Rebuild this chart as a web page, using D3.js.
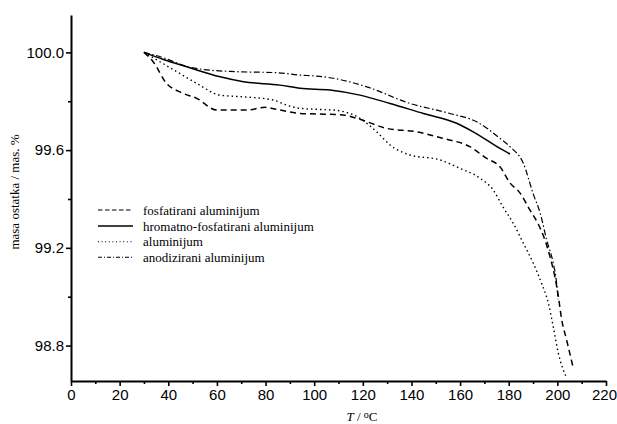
<!DOCTYPE html>
<html><head><meta charset="utf-8">
<script src="https://cdn.jsdelivr.net/npm/d3@7"></script>
<style>html,body{margin:0;padding:0;background:#fff;}svg{display:block;}</style>
</head><body>
<svg id="chart" width="617" height="424"></svg>
<script>
// ---- data ----
const seriesNames = ["fosfatirani aluminijum","hromatno-fosfatirani aluminijum","aluminijum","anodizirani aluminijum"];
const fosfT = [30,33.7,39.3,45.5,51.7,59.9,72.2,79.8,85.9,94.2,101,111.8,118.8,129.8,142.1,153,164,170.9,176.4,180.5,184.6,188.7,192,194.9,197,199,200.2,201.8,203.8,206.4];
const fosfV = [100.0,99.963,99.873,99.835,99.812,99.764,99.764,99.775,99.764,99.75,99.748,99.744,99.726,99.689,99.675,99.648,99.614,99.566,99.532,99.466,99.425,99.355,99.30,99.232,99.163,99.08,99.015,98.905,98.823,98.714];
const hromT = [30,38,47.6,61.3,70.9,85.9,94.2,106.5,118.8,131.2,144.9,158.6,165.4,176.4,180.5];
const hromV = [100.0,99.971,99.941,99.90,99.88,99.866,99.853,99.846,99.825,99.791,99.75,99.71,99.675,99.607,99.584];
const aluT = [30,36,42,51.7,61.3,70.9,83.2,88.7,94.2,101,107.9,118.8,125.7,131.2,139.4,151.7,160,168.2,173.6,177.6,181.9,186,190.1,193.5,196.3,198.3,200.4,203.8];
const aluV = [100.0,99.965,99.93,99.873,99.825,99.818,99.805,99.784,99.771,99.767,99.764,99.73,99.675,99.621,99.58,99.56,99.525,99.485,99.437,99.368,99.30,99.219,99.137,99.055,98.973,98.878,98.769,98.667];
const anoT = [30,38,47.6,54.4,68.1,84.6,94.2,101,107.9,121.6,139.4,155.8,166.8,176.4,180.5,186,190.1,193,195.6,198.3,199.7,200.3];
const anoV = [100.0,99.978,99.942,99.93,99.921,99.917,99.907,99.903,99.894,99.859,99.791,99.75,99.716,99.648,99.614,99.546,99.42,99.34,99.232,99.137,99.055,98.99];
const xTicks = [0,20,40,60,80,100,120,140,160,180,200,220];
const yTicks = [98.8,99.2,99.6,100.0];

// ---- layout ----
const svg = d3.select("#chart");
const x = d3.scaleLinear().domain([0,220]).range([71,606]);
const y = d3.scaleLinear().domain([98.655,100.153]).range([381,15]);

const styles = [
  {dash:"6,4", w:1.5},
  {dash:null, w:1.5},
  {dash:"1.5,3", w:1.4},
  {dash:"6,2.5,1.5,2.5", w:1.2}
];
const data = [
  d3.zip(fosfT,fosfV), d3.zip(hromT,hromV), d3.zip(aluT,aluV), d3.zip(anoT,anoV)
];
const line = d3.line().x(d=>x(d[0])).y(d=>y(d[1])).curve(d3.curveMonotoneX);

// axes
const xAxis = d3.axisBottom(x).tickValues(d3.range(0,221,10)).tickSize(5).tickSizeOuter(0)
  .tickFormat(d => xTicks.includes(d) ? d : "");
const gx = svg.append("g").attr("transform","translate(0,381)").call(xAxis);
gx.select(".domain").attr("stroke","#000").attr("stroke-width",2);
gx.selectAll(".tick line").attr("stroke","#000").attr("stroke-width",1.6)
  .attr("y2", d => xTicks.includes(d) ? 5 : 3);
gx.selectAll(".tick text").attr("font-family","'Liberation Sans',Arial,sans-serif").attr("font-size",15)
  .attr("fill","#000").attr("y",8).attr("dy","0.71em")
  .attr("dx", d => d===220 ? -2 : 0);

const yAxis = d3.axisLeft(y).tickValues([98.8,99.0,99.2,99.4,99.6,99.8,100.0]).tickSize(5).tickSizeOuter(0)
  .tickFormat(d => yTicks.some(t=>Math.abs(t-d)<1e-6) ? d3.format(".1f")(d) : "");
const gy = svg.append("g").attr("transform","translate(71,0)").call(yAxis);
gy.select(".domain").attr("stroke","#000").attr("stroke-width",2);
gy.selectAll(".tick line").attr("stroke","#000").attr("stroke-width",1.6)
  .attr("x2", d => yTicks.some(t=>Math.abs(t-d)<1e-6) ? -5 : -3);
gy.selectAll(".tick text").attr("font-family","'Liberation Sans',Arial,sans-serif").attr("font-size",15)
  .attr("fill","#000").attr("x",-7);

// lines
svg.append("g").selectAll("path").data(data).join("path")
  .attr("d", line).attr("fill","none").attr("stroke","#000")
  .attr("stroke-width",(d,i)=>styles[i].w)
  .attr("stroke-dasharray",(d,i)=>styles[i].dash);

// legend
const legRows = [210,226,241.7,257.3];
const leg = svg.append("g");
seriesNames.forEach((n,i)=>{
  leg.append("line").attr("x1",98).attr("x2",133).attr("y1",legRows[i]).attr("y2",legRows[i])
    .attr("stroke","#000").attr("stroke-width",i===1?1.5:1.1)
    .attr("stroke-dasharray", i===0?"4.5,2.5": i===2?"1,2.6": i===3?"4,2,1,2":null);
  leg.append("text").attr("x",143).attr("y",legRows[i]+4.5)
    .attr("font-family","'Liberation Serif','Times New Roman',serif").attr("font-size",13)
    .attr("fill","#000").text(n);
});

// axis titles
svg.append("text").attr("transform","translate(19,192) rotate(-90)").attr("text-anchor","middle")
  .attr("font-family","'Liberation Serif','Times New Roman',serif").attr("font-size",13).attr("fill","#000")
  .text("masa ostatka / mas. %");
const xt = svg.append("text").attr("x",362).attr("y",421).attr("text-anchor","middle")
  .attr("font-family","'Liberation Serif','Times New Roman',serif").attr("font-size",13).attr("fill","#000");
xt.append("tspan").attr("font-style","italic").text("T");
xt.append("tspan").text(" / ");
xt.append("tspan").attr("font-size",10).attr("dy",-3).text("o");
xt.append("tspan").attr("dy",3).text("C");
</script>
</body></html>
